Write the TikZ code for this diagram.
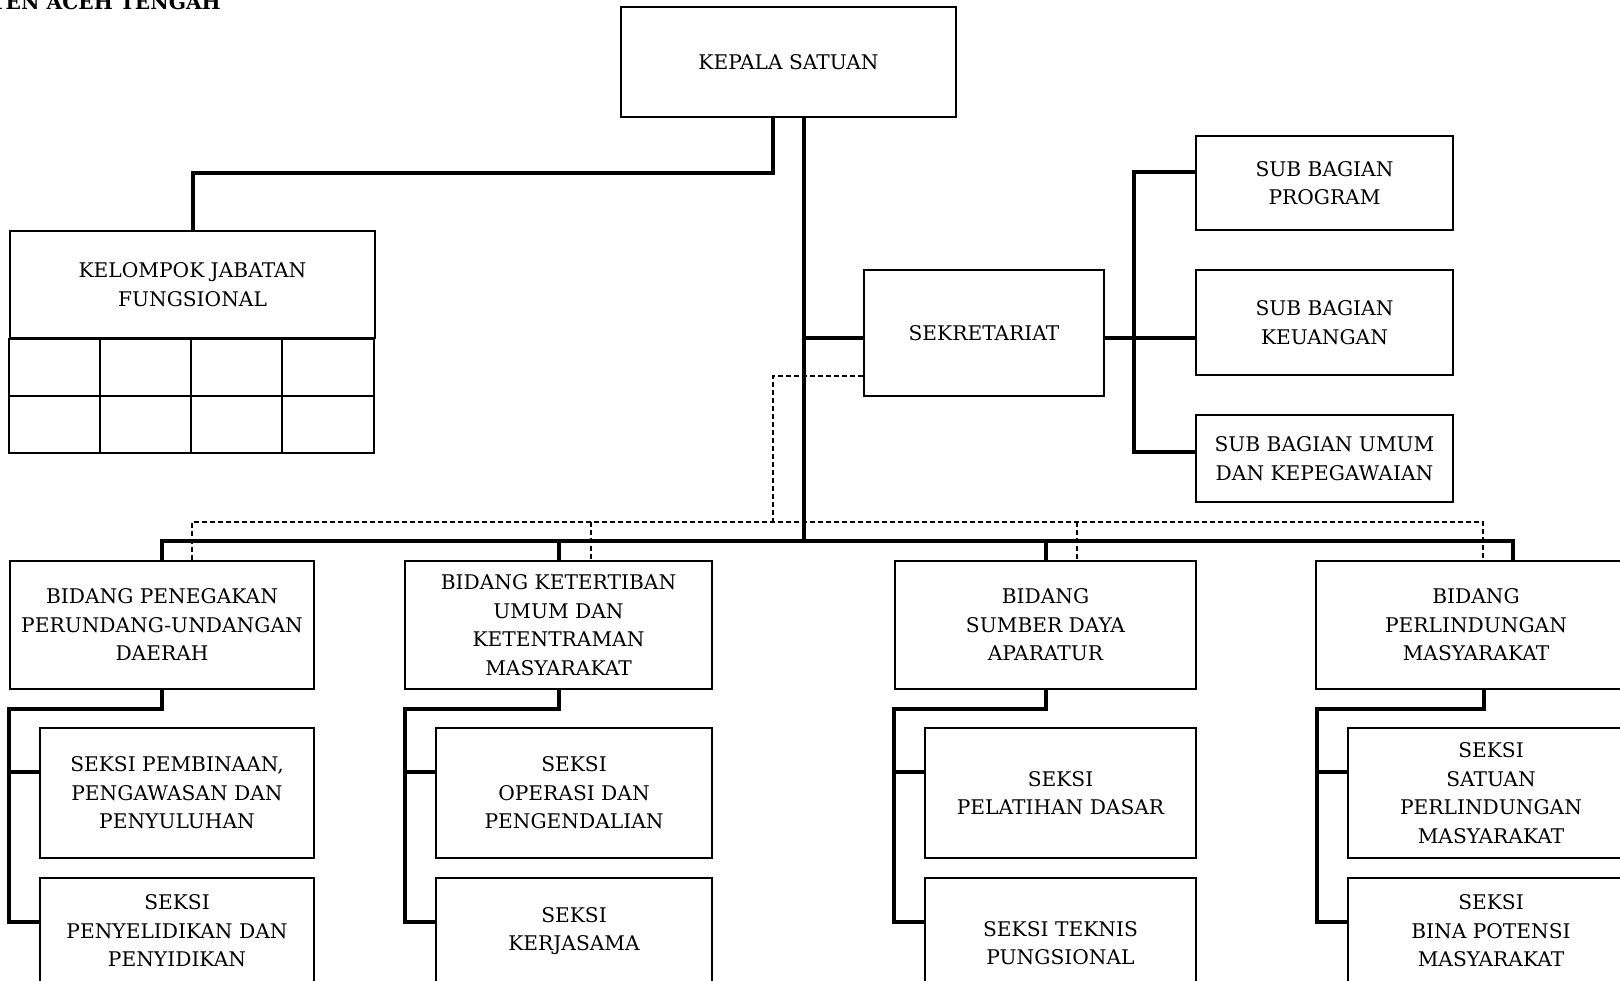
\documentclass[tikz,border=0pt]{standalone}
\usepackage{fontspec}
\setmainfont{DejaVu Serif}
\usetikzlibrary{calc,positioning}
\tikzstyle{unit}=[draw, line width=2pt, align=center, inner sep=0pt, font=\fontsize{20.2}{28.5}\selectfont]
\tikzstyle{cell}=[line width=2pt]
\tikzstyle{link}=[line width=4pt]
\tikzstyle{staff}=[line width=1.5pt, dash pattern=on 5pt off 3pt]

\begin{document}
\begin{tikzpicture}[x=1pt,y=-1pt]
\useasboundingbox (0,0) rectangle (1620,981);

\node[anchor=base east, inner sep=0pt, font=\bfseries\fontsize{20.2}{24}\selectfont] (title) at (221,9.5) {TEN ACEH TENGAH};

% pimpinan dan sekretariat
\node (kepala) [unit, minimum width=335, minimum height=110] at (788.5,62) {KEPALA SATUAN};
\node (kelompok) [unit, minimum width=365, minimum height=107] at (192.5,284.5) {KELOMPOK JABATAN\\FUNGSIONAL};
\node (sekr) [unit, minimum width=240, minimum height=126] at (984,333) {SEKRETARIAT};
\node (prog) [unit, minimum width=257, minimum height=94] at (1324.5,183) {SUB BAGIAN\\PROGRAM};
\node (keu) [unit, minimum width=257, minimum height=105] at (1324.5,322.5) {SUB BAGIAN\\KEUANGAN};
\node (umum) [unit, minimum width=257, minimum height=87] at (1324.5,458.5) {SUB BAGIAN UMUM\\DAN KEPEGAWAIAN};

% kotak jabatan fungsional
\draw[cell] (kelompok.south west) rectangle ++(365,114);
\draw[cell] ($(kelompok.south west)+(0,57)$) -- ++(365,0);
\draw[cell] ($(kelompok.south west)+(91,0)$) -- ++(0,114);
\draw[cell] ($(kelompok.south west)+(182,0)$) -- ++(0,114);
\draw[cell] ($(kelompok.south west)+(273,0)$) -- ++(0,114);

% bidang
\node (bidang1) [unit, minimum width=304, minimum height=128] at (162,625) {BIDANG PENEGAKAN\\PERUNDANG-UNDANGAN\\DAERAH};
\node (bidang2) [unit, minimum width=307, minimum height=128] at (558.5,625) {BIDANG KETERTIBAN\\UMUM DAN\\KETENTRAMAN\\MASYARAKAT};
\node (bidang3) [unit, minimum width=301, minimum height=128] at (1045.5,625) {BIDANG\\SUMBER DAYA\\APARATUR};
\node (bidang4) [unit, minimum width=320, minimum height=128] at (1476,625) {BIDANG\\PERLINDUNGAN\\MASYARAKAT};

% seksi
\node (s11) [unit, minimum width=274, minimum height=130] at (177,793) {SEKSI PEMBINAAN,\\PENGAWASAN DAN\\PENYULUHAN};
\node (s12) [unit, minimum width=274, minimum height=106] at (177,931) {SEKSI\\PENYELIDIKAN DAN\\PENYIDIKAN};
\node (s21) [unit, minimum width=276, minimum height=130] at (574,793) {SEKSI\\OPERASI DAN\\PENGENDALIAN};
\node (s22) [unit, minimum width=276, minimum height=106] at (574,931) {SEKSI\\KERJASAMA};
\node (s31) [unit, minimum width=271, minimum height=130] at (1060.5,793) {SEKSI\\PELATIHAN DASAR};
\node (s32) [unit, minimum width=271, minimum height=130] at (1060.5,943) {SEKSI TEKNIS\\PUNGSIONAL};
\node (s41) [unit, minimum width=286, minimum height=130] at (1491,793) {SEKSI\\SATUAN\\PERLINDUNGAN\\MASYARAKAT};
\node (s42) [unit, minimum width=286, minimum height=106] at (1491,931) {SEKSI\\BINA POTENSI\\MASYARAKAT};

\coordinate (bus) at (803.5,541);
\coordinate (b4) at (1513,541);
\coordinate (dk) at (773,522);
\coordinate (d1) at (192,522);
\coordinate (d2) at (591,522);
\coordinate (d3) at (1077,522);
\coordinate (d4) at (1483,522);

% garis komando
\draw[link] ($(kepala.south)+(-15.5,0)$) -- ++(0,55) -| (kelompok.north);
\draw[link] (kepala.south -| bus) -- (bus);
\draw[link] ($(sekr.west)+(0,5)$) -| (bus);
\draw[link] ($(sekr.east)+(0,5)$) -- ($(keu.west)+(0,15.5)$);
\draw[link] ($(prog.west)+(0,-11)$) -| ($(umum.west)+(-61,-6.5)$) -- ($(umum.west)+(0,-6.5)$);
\draw[link] (bidang1.north) |- (b4) -- (bidang4.north -| b4);
\draw[link] (bidang2.north) -- (bidang2.north |- bus);
\draw[link] (bidang3.north) -- (bidang3.north |- bus);

% garis koordinasi
\draw[staff] ($(sekr.west)+(0,43)$) -| (dk);
\draw[staff] (bidang1.north -| d1) -- (d1) -- (d4) -- (bidang4.north -| d4);
\draw[staff] (d2) -- (bidang2.north -| d2);
\draw[staff] (d3) -- (bidang3.north -| d3);

% bidang ke seksi
\draw[link] (bidang1.south) -- ++(0,19) -| ($(s12.north west)+(-30,45)$) -- ($(s12.north west)+(0,45)$);
\draw[link] ($(s11.north west)+(-30,45)$) -- ($(s11.north west)+(0,45)$);
\draw[link] (bidang2.south) -- ++(0,19) -| ($(s22.north west)+(-30,45)$) -- ($(s22.north west)+(0,45)$);
\draw[link] ($(s21.north west)+(-30,45)$) -- ($(s21.north west)+(0,45)$);
\draw[link] (bidang3.south) -- ++(0,19) -| ($(s32.north west)+(-30,45)$) -- ($(s32.north west)+(0,45)$);
\draw[link] ($(s31.north west)+(-30,45)$) -- ($(s31.north west)+(0,45)$);
\draw[link] ($(bidang4.south)+(8,0)$) -- ++(0,19) -| ($(s42.north west)+(-30,45)$) -- ($(s42.north west)+(0,45)$);
\draw[link] ($(s41.north west)+(-30,45)$) -- ($(s41.north west)+(0,45)$);
\end{tikzpicture}
\end{document}
